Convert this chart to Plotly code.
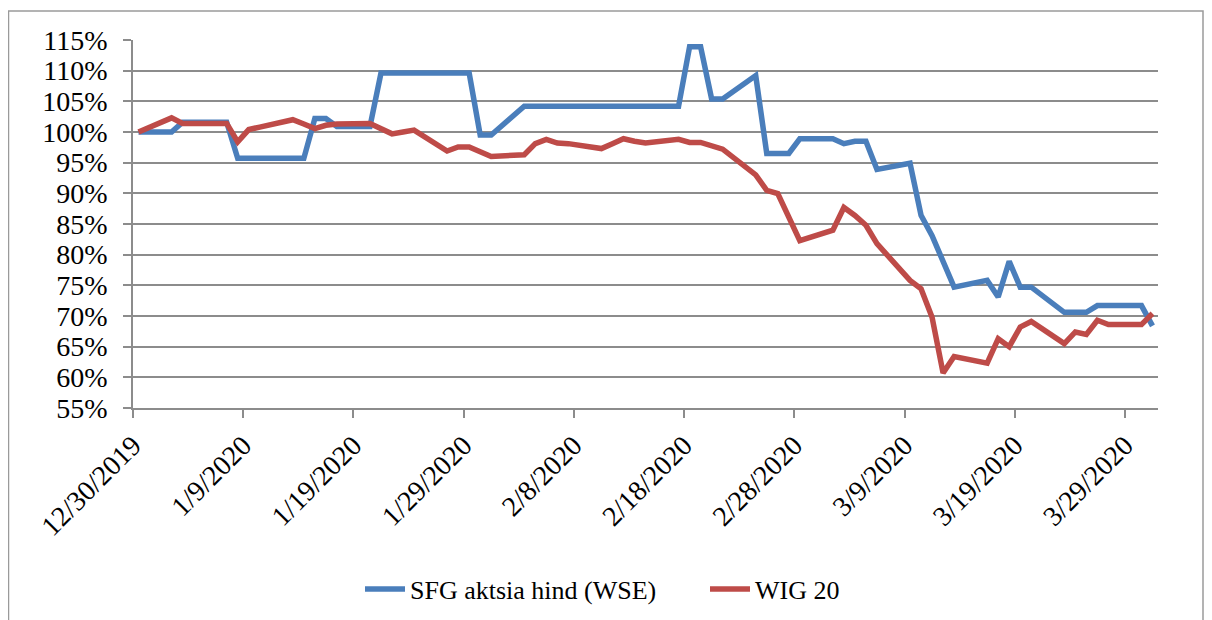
import pandas as pd
import plotly.graph_objects as go

# Trading dates (WSE)
dates = [
    "2019-12-30", "2020-01-02", "2020-01-03", "2020-01-07", "2020-01-08", "2020-01-09", "2020-01-10",
    "2020-01-13", "2020-01-14", "2020-01-15", "2020-01-16", "2020-01-17",
    "2020-01-20", "2020-01-21", "2020-01-22", "2020-01-23", "2020-01-24",
    "2020-01-27", "2020-01-28", "2020-01-29", "2020-01-30", "2020-01-31",
    "2020-02-03", "2020-02-04", "2020-02-05", "2020-02-06", "2020-02-07",
    "2020-02-10", "2020-02-11", "2020-02-12", "2020-02-13", "2020-02-14",
    "2020-02-17", "2020-02-18", "2020-02-19", "2020-02-20", "2020-02-21",
    "2020-02-24", "2020-02-25", "2020-02-26", "2020-02-27", "2020-02-28",
    "2020-03-02", "2020-03-03", "2020-03-04", "2020-03-05", "2020-03-06",
    "2020-03-09", "2020-03-10", "2020-03-11", "2020-03-12", "2020-03-13",
    "2020-03-16", "2020-03-17", "2020-03-18", "2020-03-19", "2020-03-20",
    "2020-03-23", "2020-03-24", "2020-03-25", "2020-03-26", "2020-03-27",
    "2020-03-30", "2020-03-31",
]

# SFG aktsia hind (WSE), % of 12/30/2019
sfg = [
    100.0, 100.0, 101.6, 101.6, 95.7, 95.7, 95.7,
    95.7, 95.7, 102.2, 102.2, 100.9,
    100.9, 109.6, 109.6, 109.6, 109.6,
    109.6, 109.6, 109.6, 99.5, 99.5,
    104.2, 104.2, 104.2, 104.2, 104.2,
    104.2, 104.2, 104.2, 104.2, 104.2,
    104.2, 113.9, 113.9, 105.4, 105.4,
    109.2, 96.5, 96.5, 96.5, 98.9,
    98.9, 98.1, 98.5, 98.5, 93.9,
    94.9, 86.4, 83.1, 79.1, 74.7,
    75.8, 73.1, 78.9, 74.7, 74.7,
    70.6, 70.6, 70.6, 71.7, 71.7,
    71.7, 68.4,
]

# WIG 20, % of 12/30/2019
wig20 = [
    100.0, 102.3, 101.4, 101.4, 98.4, 100.4, 100.8,
    102.0, 101.3, 100.55, 101.1, 101.3,
    101.4, 100.6, 99.7, 100.0, 100.3,
    96.9, 97.55, 97.55, 96.8, 96.0,
    96.3, 98.1, 98.8, 98.2, 98.1,
    97.3, 98.1, 98.9, 98.5, 98.2,
    98.8, 98.3, 98.3, 97.8, 97.2,
    93.0, 90.5, 89.95, 86.2, 82.3,
    84.0, 87.7, 86.4, 84.8, 81.8,
    75.8, 74.45, 69.8, 60.7, 63.4,
    62.3, 66.3, 65.0, 68.2, 69.1,
    65.5, 67.4, 67.0, 69.3, 68.6,
    68.6, 70.4,
]

series_names = ["SFG aktsia hind (WSE)", "WIG 20"]
series_colors = ["#4A7EBB", "#BE4B48"]

# points sit in the middle of each day (date axis, between tick marks)
x = pd.to_datetime(dates) + pd.Timedelta(hours=12)

FONT = "'Liberation Serif', 'DejaVu Serif', serif"
GRID = "#8C8C8C"

# figure sits in the page at (8, 8) because of the default body margin
W, H = 1204, 612
ML, MR, MT, MB = 125, 54, 32, 212
PW, PH = W - ML - MR, H - MT - MB


def px_x(p):
    return (p - ML) / PW


def px_y(p):
    return (H - MB - p) / PH


fig = go.Figure()
for name, vals, col in zip(series_names, [sfg, wig20], series_colors):
    fig.add_trace(go.Scatter(
        x=x, y=vals, name=name, mode="lines",
        line=dict(color=col, width=5.5, shape="linear"),
    ))

fig.update_layout(
    width=W, height=H,
    margin=dict(l=ML, r=MR, t=MT, b=MB, autoexpand=False),
    paper_bgcolor="white", plot_bgcolor="white",
    font=dict(family=FONT, size=26, color="black"),
    showlegend=True,
    legend=dict(
        orientation="h", x=px_x(697), xanchor="center", y=px_y(581), yanchor="middle",
        font=dict(family=FONT, size=26, color="black"),
        itemwidth=40, traceorder="normal",
        entrywidth=290, entrywidthmode="pixels",
    ),
    xaxis=dict(
        type="date", automargin=False,
        range=["2019-12-30", "2020-04-01"],
        tick0="2019-12-30", dtick=10 * 86400000,
        tickformat="%-m/%-d/%Y", tickangle=-45,
        showgrid=False, showline=True, linecolor=GRID, linewidth=1.5,
        ticks="outside", ticklen=8, tickcolor=GRID, tickwidth=1.5,
        tickfont=dict(family=FONT, size=28, color="black"),
        zeroline=False,
    ),
    yaxis=dict(
        automargin=False,
        range=[55, 115], dtick=5, tick0=55, ticksuffix="%",
        showgrid=True, gridcolor=GRID, gridwidth=1.5,
        showline=True, linecolor=GRID, linewidth=1.5,
        ticks="outside", ticklen=8, tickcolor=GRID, tickwidth=1.5,
        ticklabelstandoff=10,
        tickfont=dict(family=FONT, size=28, color="black"),
        zeroline=False,
    ),
    shapes=[dict(
        type="rect", xref="paper", yref="paper",
        x0=px_x(0.5), x1=px_x(1195),
        y0=px_y(620), y1=px_y(3),
        line=dict(color="#9A9A9A", width=1.5), fillcolor="rgba(0,0,0,0)",
        layer="below",
    )],
)

fig.write_html("out.html")
